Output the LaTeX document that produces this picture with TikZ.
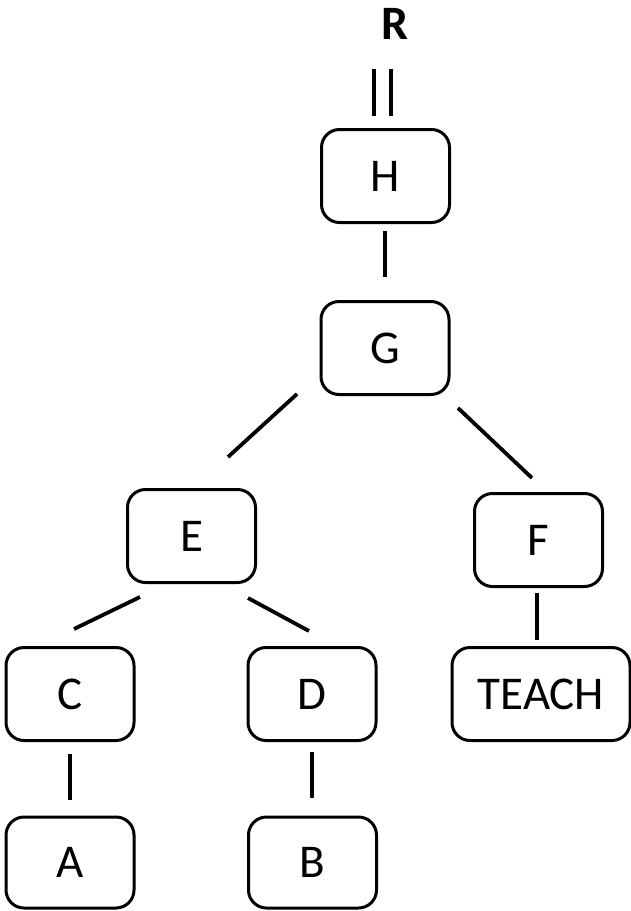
\documentclass[tikz,border=0pt]{standalone}
\usepackage{fontspec}
\setmainfont{Carlito}
\begin{document}
\begin{tikzpicture}[x=1pt,y=-1pt,
  box/.style={draw,line width=3pt,rounded corners=18pt,minimum width=128pt,minimum height=93pt,inner sep=0pt,outer sep=0pt,font=\fontsize{47}{56}\selectfont},
  link/.style={line width=3.8pt}]
\useasboundingbox (0,0) rectangle (631,911);
\node[font=\fontsize{48}{56}\selectfont\bfseries] (R) at (395,24) {R};
\node[box] (H) at (385.5,176) {H};
\node[box] (G) at (385,348) {G};
\node[box] (E) at (191.5,536) {E};
\node[box] (F) at (538.5,540) {F};
\node[box] (C) at (70,694) {C};
\node[box] (D) at (312,694) {D};
\node[box,minimum width=178pt] (T) at (541,694) {TEACH};
\node[box,minimum height=91pt] (A) at (70,862.5) {A};
\node[box,minimum height=91pt] (B) at (312.5,862.5) {B};
% connector end points
\coordinate (rh1a) at (374,69);  \coordinate (rh1b) at (374,116);
\coordinate (rh2a) at (391,69);  \coordinate (rh2b) at (391,116);
\coordinate (hg1) at (385,231);  \coordinate (hg2) at (385,277);
\coordinate (ge1) at (297,394);  \coordinate (ge2) at (228,457);
\coordinate (gf1) at (458,408);  \coordinate (gf2) at (532,478);
\coordinate (ec1) at (140,597);  \coordinate (ec2) at (74,629);
\coordinate (ed1) at (248,598);  \coordinate (ed2) at (309,631);
\coordinate (ft1) at (537,593);  \coordinate (ft2) at (537,640);
\coordinate (ca1) at (70,754);   \coordinate (ca2) at (70,800);
\coordinate (db1) at (312,752);  \coordinate (db2) at (312,798);
\draw[link] (rh1a) -- (rh1b);
\draw[link] (rh2a) -- (rh2b);
\draw[link] (hg1) -- (hg2);
\draw[link] (ge1) -- (ge2);
\draw[link] (gf1) -- (gf2);
\draw[link] (ec1) -- (ec2);
\draw[link] (ed1) -- (ed2);
\draw[link] (ft1) -- (ft2);
\draw[link] (ca1) -- (ca2);
\draw[link] (db1) -- (db2);
\end{tikzpicture}
\end{document}
